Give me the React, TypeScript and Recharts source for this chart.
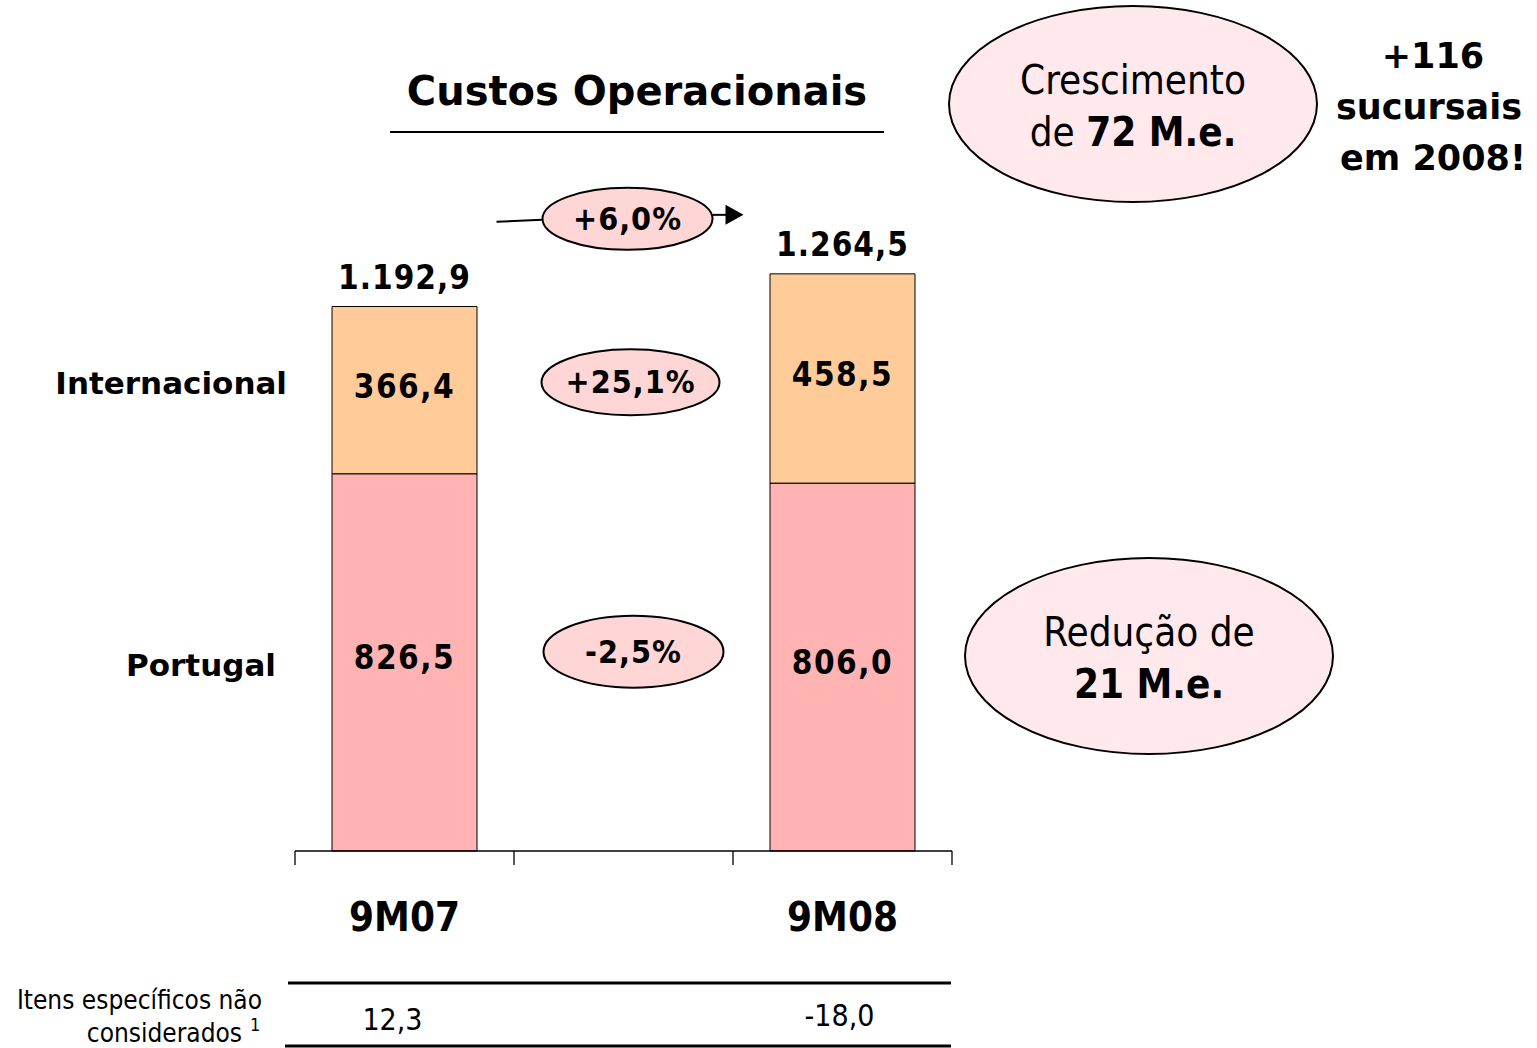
import { Bar, BarChart, LabelList, ReferenceDot, XAxis, YAxis } from 'recharts';

// values in M.e.
const periods = ['9M07', ' ', '9M08'];
const portugal = [826.5, null, 806.0];
const internacional = [366.4, null, 458.5];
const specificItems = [12.3, null, -18.0];

const W = 1537;
const H = 1048;
const FONT = '"DejaVu Sans Condensed", "DejaVu Sans", sans-serif';
const FONT_WIDE = '"DejaVu Sans", sans-serif';

const fmt = (v: number) => {
  const [int, dec] = Math.abs(v).toFixed(1).split('.');
  const withDots = int.replace(/\B(?=(\d{3})+(?!\d))/g, '.');
  return (v < 0 ? '-' : '') + withDots + ',' + dec;
};
const pct = (a: number, b: number) => {
  const p = (b / a - 1) * 100;
  return (p >= 0 ? '+' : '-') + Math.abs(p).toFixed(1).replace('.', ',') + '%';
};

const totals = periods.map((_, i) => (portugal[i] == null ? null : (portugal[i] as number) + (internacional[i] as number)));
const data = periods.map((p, i) => ({ period: p, slot: i, portugal: portugal[i], internacional: internacional[i], total: totals[i] }));

const first = 0;
const last = periods.length - 1;
const ptFirst = portugal[first] as number;
const ptLast = portugal[last] as number;
const inFirst = internacional[first] as number;
const inLast = internacional[last] as number;
const totFirst = totals[first] as number;
const totLast = totals[last] as number;

// bubble positions between the bars (midpoints of the segments)
const inMid = (ptFirst + inFirst / 2 + ptLast + inLast / 2) / 2;
const ptMid = (ptFirst / 2 + ptLast / 2) / 2;
const totalBubbleY = 1385;

// band boundaries for the tick marks under the bars
const frameTicks = periods.map((_, i) => i).concat(periods.length);

function Bubble(props: any) {
  const { cx: cx0, cy: cy0, label, rx, ry, arrow, shiftX = 0, shiftY = 0 } = props;
  const cx = cx0 + shiftX;
  const cy = cy0 + shiftY;
  return (
    <g>
      {arrow && (
        <g>
          <line x1={cx - 131} y1={cy + 3} x2={cx - rx} y2={cy + 1} stroke="#000" strokeWidth={2} />
          <line x1={cx + rx} y1={cy - 4} x2={cx + 100} y2={cy - 4} stroke="#000" strokeWidth={2} />
          <polygon points={`${cx + 98},${cy - 14} ${cx + 116},${cy - 4} ${cx + 98},${cy + 6}`} fill="#000" />
        </g>
      )}
      <ellipse cx={cx} cy={cy} rx={rx} ry={ry} fill="#FFD6D6" stroke="#000" strokeWidth={2} />
      <text x={cx} y={cy} dy={11} textAnchor="middle" fontFamily={FONT} fontWeight="bold" fontSize={32} fill="#000" letterSpacing={1}>
        {label}
      </text>
    </g>
  );
}

function SeriesName(props: any) {
  const { x, y, height, index, name, dx, dy } = props;
  if (index !== 0) return null;
  return (
    <text x={x - dx} y={y + height / 2 + dy} textAnchor="end" fontFamily={FONT_WIDE} fontWeight="bold" fontSize={31} fill="#000">
      {name}
    </text>
  );
}

function InsideValue(props: any) {
  const { x, y, width, height, value, dy } = props;
  if (value == null) return null;
  return (
    <text x={x + width / 2} y={y + height / 2 + dy} textAnchor="middle" fontFamily={FONT} fontWeight="bold" fontSize={33} fill="#000" letterSpacing={1.5}>
      {fmt(value)}
    </text>
  );
}

function TotalValue(props: any) {
  const { x, y, width, value } = props;
  if (value == null) return null;
  return (
    <text x={x + width / 2} y={y - 18} textAnchor="middle" fontFamily={FONT} fontWeight="bold" fontSize={33} fill="#000" letterSpacing={1}>
      {fmt(value)}
    </text>
  );
}

// small nudges of the "itens específicos" values under each period
const itemShiftX = [-12, 0, -3];
const itemShiftY = [151, 0, 147];

function PeriodTick(props: any) {
  const { x, y, payload, index } = props;
  const v = specificItems[index];
  return (
    <g>
      <text x={x} y={y} dy={52} textAnchor="middle" fontFamily={FONT} fontWeight="bold" fontSize={40} fill="#000">
        {payload.value.trim()}
      </text>
      {v != null && (
        <text x={x + itemShiftX[index]} y={y} dy={itemShiftY[index]} textAnchor="middle" fontFamily={FONT} fontSize={30} fill="#000">
          {fmt(v)}
        </text>
      )}
    </g>
  );
}

const NoTick = () => <g />;

export default function App() {
  const growth = Math.round(totLast - totFirst);
  const reduction = Math.round(ptFirst - ptLast);
  return (
    <div style={{ position: 'absolute', left: 0, top: 0, width: W, height: H, background: '#fff', overflow: 'hidden' }}>
      <BarChart width={W} height={H} data={data} margin={{ top: 212, right: 585, left: 295, bottom: 27 }} barCategoryGap={37}>
        <XAxis
          xAxisId="a_frame"
          type="number"
          dataKey="slot"
          domain={[0, periods.length]}
          allowDataOverflow
          ticks={frameTicks}
          tick={<NoTick />}
          tickSize={14}
          height={20}
          axisLine={{ stroke: '#000', strokeWidth: 1.3 }}
          tickLine={{ stroke: '#000', strokeWidth: 1.3 }}
        />
        <XAxis xAxisId="b_cat" dataKey="period" axisLine={false} tickLine={false} height={150} tick={<PeriodTick />} interval={0} />
        <YAxis hide domain={[0, 1400]} />
        <Bar xAxisId="b_cat" dataKey="portugal" stackId="a" fill="#FFB3B3" stroke="#000" strokeWidth={1} isAnimationActive={false}>
          <LabelList dataKey="portugal" content={<InsideValue dy={7} />} />
          <LabelList dataKey="portugal" content={<SeriesName name="Portugal" dx={56} dy={14} />} />
        </Bar>
        <Bar xAxisId="b_cat" dataKey="internacional" stackId="a" fill="#FFCC99" stroke="#000" strokeWidth={1} isAnimationActive={false}>
          <LabelList dataKey="internacional" content={<InsideValue dy={8} />} />
          <LabelList dataKey="internacional" content={<SeriesName name="Internacional" dx={45} dy={4} />} />
          <LabelList dataKey="total" content={<TotalValue />} />
        </Bar>
        <ReferenceDot
          xAxisId="b_cat"
          x=" "
          y={totalBubbleY}
          shape={(p: any) => <Bubble {...p} label={pct(totFirst, totLast)} rx={85} ry={31} shiftX={4} arrow />}
        />
        <ReferenceDot xAxisId="b_cat" x=" " y={inMid} shape={(p: any) => <Bubble {...p} label={pct(inFirst, inLast)} rx={89} ry={33} shiftX={7} shiftY={-2} />} />
        <ReferenceDot xAxisId="b_cat" x=" " y={ptMid} shape={(p: any) => <Bubble {...p} label={pct(ptFirst, ptLast)} rx={90} ry={36} shiftX={10} shiftY={-13} />} />
      </BarChart>

      <svg width={W} height={H} style={{ position: 'absolute', left: 0, top: 0, pointerEvents: 'none' }}>
        <text x={637} y={105} textAnchor="middle" fontFamily={FONT_WIDE} fontWeight="bold" fontSize={40} fill="#000">
          Custos Operacionais
        </text>
        <line x1={390} y1={132} x2={884} y2={132} stroke="#000" strokeWidth={2} />

        <ellipse cx={1133} cy={104} rx={184} ry={98} fill="#FFE9ED" stroke="#000" strokeWidth={2} />
        <text x={1133} y={94} textAnchor="middle" fontFamily={FONT} fontSize={40} fill="#000">Crescimento</text>
        <text x={1133} y={146} textAnchor="middle" fontFamily={FONT} fontSize={40} fill="#000">
          de <tspan fontWeight="bold">{growth} M.e.</tspan>
        </text>

        <text textAnchor="middle" fontFamily={FONT_WIDE} fontWeight="bold" fontSize={35} fill="#000">
          <tspan x={1433} y={68}>+116</tspan>
          <tspan x={1429} y={119}>sucursais</tspan>
          <tspan x={1433} y={170}>em 2008!</tspan>
        </text>

        <ellipse cx={1149} cy={656} rx={184} ry={98} fill="#FFE9ED" stroke="#000" strokeWidth={2} />
        <text x={1149} y={646} textAnchor="middle" fontFamily={FONT} fontSize={40} fill="#000">Redução de</text>
        <text x={1149} y={698} textAnchor="middle" fontFamily={FONT} fontWeight="bold" fontSize={40} fill="#000">
          {reduction} M.e.
        </text>

        <line x1={288} y1={983} x2={951} y2={983} stroke="#000" strokeWidth={3} />
        <line x1={285} y1={1046} x2={951} y2={1046} stroke="#000" strokeWidth={3} />
        <text x={262} y={1009} textAnchor="end" fontFamily={FONT} fontSize={26} fill="#000">Itens específicos não</text>
        <text x={242} y={1042} textAnchor="end" fontFamily={FONT} fontSize={26} fill="#000">considerados</text>
        <text x={250} y={1031} fontFamily={FONT} fontSize={18} fill="#000">1</text>
      </svg>
    </div>
  );
}
